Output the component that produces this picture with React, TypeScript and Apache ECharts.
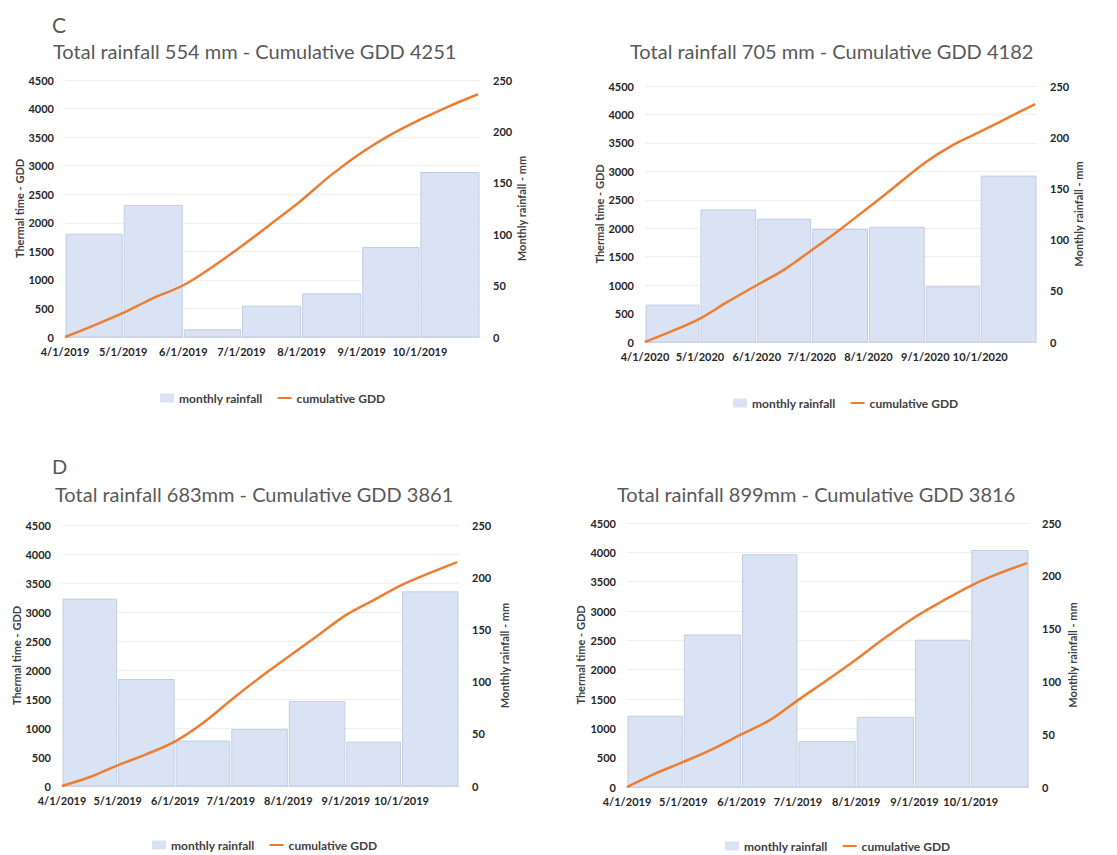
import React, { useEffect, useRef } from 'react';
import * as echarts from 'echarts';

// ---------- data ----------
const months2019 = ['2019-04-01', '2019-05-01', '2019-06-01', '2019-07-01', '2019-08-01', '2019-09-01', '2019-10-01', '2019-11-01'];
const months2020 = ['2020-04-01', '2020-05-01', '2020-06-01', '2020-07-01', '2020-08-01', '2020-09-01', '2020-10-01', '2020-11-01'];

const gddDates2019 = ['2019-04-01', '2019-04-16', '2019-05-01', '2019-05-16', '2019-06-01', '2019-06-16', '2019-07-01', '2019-07-16', '2019-08-01', '2019-08-16', '2019-09-01', '2019-09-16', '2019-10-01', '2019-10-16', '2019-10-31'];
const gddDates2020 = ['2020-04-01', '2020-04-16', '2020-05-01', '2020-05-16', '2020-06-01', '2020-06-16', '2020-07-01', '2020-07-16', '2020-08-01', '2020-08-16', '2020-09-01', '2020-09-16', '2020-10-01', '2020-10-16', '2020-10-31'];

// Panel C, 2019
const rainC2019 = [100, 128, 7, 30, 42, 87, 160];
const gddC2019 = [0, 205, 421, 672, 906, 1227, 1590, 1975, 2396, 2830, 3230, 3545, 3805, 4040, 4251];
// Panel C, 2020
const rainC2020 = [36, 129, 120, 110, 112, 54, 162];
const gddC2020 = [0, 194, 411, 704, 998, 1273, 1614, 1966, 2365, 2746, 3157, 3462, 3697, 3940, 4182];
// Panel D, 683 mm
const rainD1 = [179, 102, 43, 54, 81, 42, 186];
const gddD1 = [0, 155, 357, 541, 771, 1087, 1479, 1853, 2227, 2572, 2946, 3205, 3464, 3670, 3861];
// Panel D, 899 mm
const rainD2 = [67, 144, 220, 43, 66, 139, 224];
const gddD2 = [0, 228, 427, 638, 900, 1139, 1481, 1811, 2175, 2534, 2890, 3170, 3430, 3640, 3816];

const titles = [
  'Total rainfall 554 mm - Cumulative GDD 4251',
  'Total rainfall 705 mm - Cumulative GDD 4182',
  'Total rainfall 683mm - Cumulative GDD 3861',
  'Total rainfall 899mm - Cumulative GDD 3816',
];

// ---------- helpers ----------
const ts = (s: string) => {
  const [y, m, d] = s.split('-').map(Number);
  return new Date(y, m - 1, d).getTime();
};

const FONT = 'Lato';
const LABEL_COLOR = '#262626';
const BAR_FILL = '#dae3f3';
const BAR_STROKE = '#c3cde2';
const LINE_COLOR = '#ed7d31';

const panels = [
  { months: months2019, rain: rainC2019, dates: gddDates2019, gdd: gddC2019, grid: { left: 65, top: 80, width: 415, height: 257 }, title: { left: 53, top: 41 }, legend: { left: 160, top: 392 }, lName: 40, rName: 36 },
  { months: months2020, rain: rainC2020, dates: gddDates2020, gdd: gddC2020, grid: { left: 645, top: 86, width: 392, height: 256 }, title: { left: 630, top: 41 }, legend: { left: 733, top: 397 }, lName: 40, rName: 36 },
  { months: months2019, rain: rainD1, dates: gddDates2019, gdd: gddD1, grid: { left: 62, top: 525, width: 397, height: 261 }, title: { left: 55, top: 484 }, legend: { left: 152, top: 839 }, lName: 39, rName: 40 },
  { months: months2019, rain: rainD2, dates: gddDates2019, gdd: gddD2, grid: { left: 627, top: 523, width: 402, height: 264 }, title: { left: 617, top: 484 }, legend: { left: 725, top: 840 }, lName: 41, rName: 38 },
];

const dateLabel = (v: number) => {
  const d = new Date(v);
  if (d.getMonth() >= 10) return '';
  return `${d.getMonth() + 1}/${d.getDate()}/${d.getFullYear()}`;
};

function buildOption() {
  const grid: any[] = [];
  const xAxis: any[] = [];
  const yAxis: any[] = [];
  const series: any[] = [];
  const title: any[] = [];
  const legend: any[] = [];

  title.push({ text: 'C', left: 52, top: 14, padding: 0, textStyle: { fontFamily: FONT, fontSize: 21, fontWeight: 'normal', color: '#595959' } });
  title.push({ text: 'D', left: 52, top: 456, padding: 0, textStyle: { fontFamily: FONT, fontSize: 20, fontWeight: 'normal', color: '#595959' } });

  panels.forEach((p, i) => {
    grid.push({ ...p.grid, outerBoundsMode: 'none', containLabel: false });
    title.push({ text: titles[i], left: p.title.left, top: p.title.top, padding: 0, textStyle: { fontFamily: FONT, fontSize: 20, fontWeight: 'normal', color: '#595959' } });
    xAxis.push({
      type: 'time',
      gridIndex: i,
      min: ts(p.months[0]),
      max: ts(p.months[p.months.length - 1]),
      splitNumber: 7,
      minInterval: 28 * 86400000,
      maxInterval: 31 * 86400000,
      axisLine: { show: true, lineStyle: { color: '#d9d9d9', width: 1 } },
      axisTick: { show: false },
      splitLine: { show: false },
      axisLabel: { formatter: dateLabel, color: LABEL_COLOR, fontFamily: FONT, fontWeight: 'bold', fontSize: 11, margin: 9, showMinLabel: true, showMaxLabel: true, hideOverlap: false },
    });
    yAxis.push({
      type: 'value',
      gridIndex: i,
      min: 0,
      max: 4500,
      interval: 500,
      name: 'Thermal time - GDD',
      nameLocation: 'middle',
      nameGap: p.lName,
      nameTextStyle: { fontFamily: FONT, fontWeight: 'bold', fontSize: 11, color: '#404040' },
      axisLine: { show: false },
      axisTick: { show: false },
      splitLine: { show: true, lineStyle: { color: '#efefef', width: 1 } },
      axisLabel: { formatter: (v: number) => String(v), color: LABEL_COLOR, fontFamily: FONT, fontWeight: 'bold', fontSize: 11, margin: 11 },
    });
    yAxis.push({
      type: 'value',
      gridIndex: i,
      position: 'right',
      min: 0,
      max: 250,
      interval: 50,
      name: 'Monthly rainfall - mm',
      nameLocation: 'middle',
      nameGap: p.rName,
      nameTextStyle: { fontFamily: FONT, fontWeight: 'bold', fontSize: 11, color: '#404040' },
      axisLine: { show: false },
      axisTick: { show: false },
      splitLine: { show: false },
      axisLabel: { formatter: (v: number) => String(v), color: LABEL_COLOR, fontFamily: FONT, fontWeight: 'bold', fontSize: 11, margin: 13 },
    });
    series.push({
      type: 'custom',
      name: 'monthly rainfall',
      xAxisIndex: i,
      yAxisIndex: i * 2 + 1,
      encode: { x: [0, 1], y: 2 },
      itemStyle: { color: BAR_FILL, borderColor: BAR_STROKE },
      data: p.rain.map((r, k) => [ts(p.months[k]), ts(p.months[k + 1]), r]),
      renderItem: (params: any, api: any) => {
        const tl = api.coord([api.value(0), api.value(2)]);
        const br = api.coord([api.value(1), 0]);
        return {
          type: 'rect',
          shape: { x: tl[0] + 1, y: tl[1], width: br[0] - tl[0] - 2, height: br[1] - tl[1] },
          style: { fill: BAR_FILL, stroke: BAR_STROKE, lineWidth: 1 },
        };
      },
      z: 1,
    });
    series.push({
      type: 'line',
      name: 'cumulative GDD',
      xAxisIndex: i,
      yAxisIndex: i * 2,
      symbol: 'none',
      smooth: 0.35,
      lineStyle: { color: LINE_COLOR, width: 2.5 },
      itemStyle: { color: LINE_COLOR },
      data: p.gdd.map((g, k) => [ts(p.dates[k]), g]),
      z: 3,
    });
    legend.push({
      left: p.legend.left,
      top: p.legend.top,
      padding: 0,
      itemWidth: 14,
      itemHeight: 9,
      itemGap: 15,
      selectedMode: false,
      textStyle: { fontFamily: FONT, fontWeight: 'bold', fontSize: 12, color: '#404040' },
      data: [
        { name: 'monthly rainfall', icon: 'rect', itemStyle: { color: BAR_FILL, borderColor: BAR_STROKE, borderWidth: 0 } },
        { name: 'cumulative GDD', icon: 'path://M0,4 L14,4 L14,6 L0,6 Z', itemStyle: { color: LINE_COLOR } },
      ],
    });
  });

  return { animation: false, backgroundColor: '#ffffff', title, grid, xAxis, yAxis, series, legend };
}

export default function App() {
  const ref = useRef<HTMLDivElement>(null);
  useEffect(() => {
    if (!ref.current) return;
    const chart = echarts.init(ref.current, undefined, { renderer: 'svg' });
    chart.setOption(buildOption() as any);
    return () => chart.dispose();
  }, []);
  return <div ref={ref} style={{ position: 'fixed', left: 0, top: 0, width: 1117, height: 855, background: '#fff' }} />;
}
